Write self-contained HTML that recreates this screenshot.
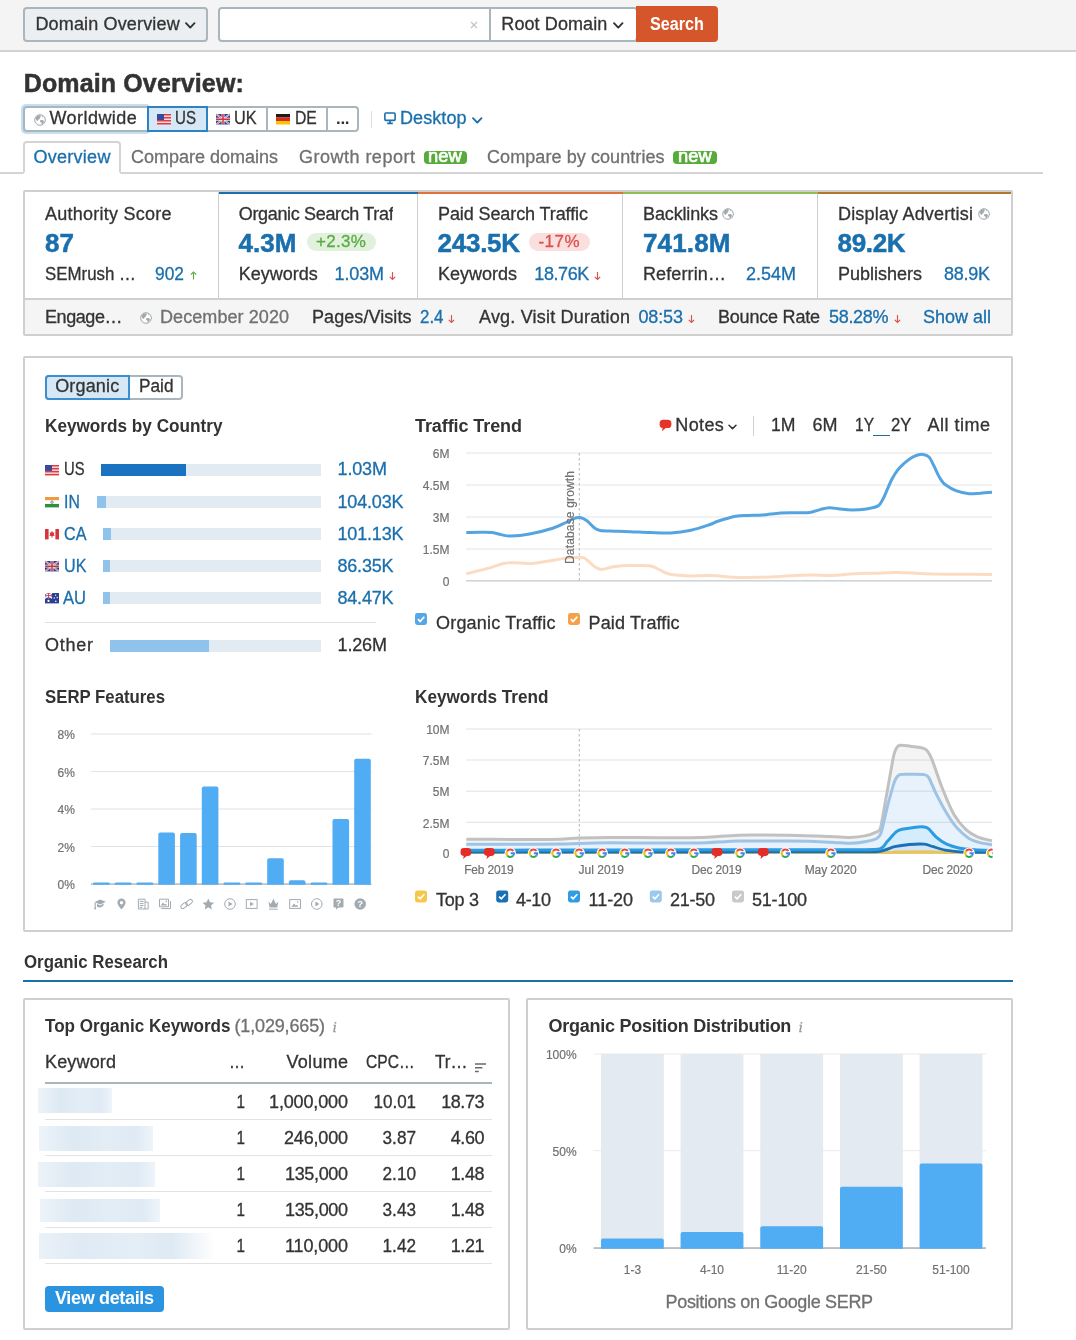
<!DOCTYPE html>
<html lang="en">
<head>
<meta charset="utf-8">
<title>Domain Overview</title>
<style>
*{box-sizing:border-box;margin:0;padding:0}
html,body{width:1076px;height:1340px;overflow:hidden;background:#fff}
body{font-family:"Liberation Sans",sans-serif;font-size:18px;color:#333;position:relative;line-height:1}
.a{position:absolute}
.t{position:absolute;white-space:nowrap;line-height:20px;height:20px;-webkit-text-stroke:.3px}
svg{position:absolute;overflow:visible}
svg text{font-family:"Liberation Sans",sans-serif;stroke:#757575;stroke-width:.2px}
</style>
</head>
<body>

<!-- top -->
<div class="a" style="left:0px;top:0px;width:1076px;height:52px;background:#f4f4f4;border-bottom:2px solid #d2d2d2"></div>
<div class="a" style="left:23px;top:6.5px;width:185px;height:35.5px;border:2px solid #a9b6bb;border-radius:4px;background:#eceff1"></div>
<div class="t" style="top:14px;left:35.40px;letter-spacing:0.161px">Domain Overview</div>
<svg style="left:185px;top:22px" width="10.5" height="7" viewBox="0 0 10.5 7"><path d="M1 1.2 L5.25 5.6 L9.5 1.2" fill="none" stroke="#333" stroke-width="1.9" stroke-linecap="round" stroke-linejoin="round"/></svg>
<div class="a" style="left:218px;top:6.5px;width:420px;height:35.5px;border:2px solid #a9b6bb;border-radius:4px;background:#fff"></div>
<div class="a" style="left:489px;top:8px;width:2px;height:33px;background:#a9b6bb"></div>
<svg style="left:469.5px;top:21px" width="8" height="8" viewBox="0 0 8 8"><path d="M1 1L7 7M7 1L1 7" stroke="#c4c4c4" stroke-width="1.3"/></svg>
<div class="t" style="top:14px;left:501.30px;letter-spacing:0.095px">Root Domain</div>
<svg style="left:613px;top:22px" width="10.5" height="7" viewBox="0 0 10.5 7"><path d="M1 1.2 L5.25 5.6 L9.5 1.2" fill="none" stroke="#333" stroke-width="1.9" stroke-linecap="round" stroke-linejoin="round"/></svg>
<div class="a" style="left:636px;top:6px;width:82px;height:36px;background:#d6562b;border-radius:0 4px 4px 0"></div>
<div class="t" style="top:14px;left:649.60px;color:#fff;font-weight:bold;-webkit-text-stroke:0;transform:scaleX(0.8993);transform-origin:0 50%">Search</div>
<div class="t" style="top:73px;left:23.80px;font-size:25px;font-weight:bold;-webkit-text-stroke:.5px;letter-spacing:0.124px">Domain Overview:</div>
<div class="a" style="left:21px;top:104px;width:130px;height:30px;border-radius:5px;background:#c4def3"></div>
<div class="a" style="left:23px;top:106px;width:336px;height:26px;border:2px solid #a9b6bb;border-radius:4px;background:#fff"></div>
<div class="a" style="left:147px;top:106px;width:61px;height:26px;border:2px solid #2b83c4;background:#d6e8f6"></div>
<div class="a" style="left:265.5px;top:108px;width:2px;height:22px;background:#a9b6bb"></div>
<div class="a" style="left:325.5px;top:108px;width:2px;height:22px;background:#a9b6bb"></div>
<svg style="left:34.2px;top:113.5px" width="12" height="12" viewBox="0 0 12 12"><circle cx="6" cy="6" r="5.3" fill="#fff" stroke="#a0a8ab" stroke-width="1"/><path d="M1.6 4 Q2.6 1.8 5 1.2 L6.6 1.6 L6.8 3 L5.6 3.8 L5.8 5 L4.4 5.4 L3.8 7 L2.4 6.2 Z M6.2 6.2 L8.4 6 L10 7 L9.4 9 L8 10.2 L7.2 8.6 L6 7.6 Z M8 1.6 L9.6 2.8 L8.6 3.4 Z" fill="#a0a8ab"/></svg>
<div class="t" style="top:108px;left:49.40px;letter-spacing:0.462px">Worldwide</div>
<svg style="left:156.8px;top:114.2px" width="14" height="10.5" viewBox="0 0 14 10.5" preserveAspectRatio="none"><rect width="14" height="10.5" fill="#f6dada"/><g fill="#dc3c46"><rect width="14" height="1.5"/><rect y="3" width="14" height="1.5"/><rect y="6" width="14" height="1.5"/><rect y="9" width="14" height="1.5"/></g><rect width="7" height="6" fill="#3a4a9a"/></svg>
<div class="t" style="top:108px;left:175.20px;transform:scaleX(0.8395);transform-origin:0 50%">US</div>
<svg style="left:215.8px;top:114.2px" width="14" height="10.5" viewBox="0 0 14 10.5" preserveAspectRatio="none"><rect width="14" height="10.5" fill="#2f3f8f"/><path d="M0 0L14 10.5M14 0L0 10.5" stroke="#e8e8f0" stroke-width="1.7"/><path d="M0 0L14 10.5M14 0L0 10.5" stroke="#c8343c" stroke-width=".6"/><path d="M7 0V10.5M0 5.25H14" stroke="#f0f0f4" stroke-width="2.8"/><path d="M7 0V10.5M0 5.25H14" stroke="#c8343c" stroke-width="1.5"/></svg>
<div class="t" style="top:108px;left:233.90px;transform:scaleX(0.9034);transform-origin:0 50%">UK</div>
<svg style="left:275.8px;top:114.2px" width="14" height="10.5" viewBox="0 0 14 10.5" preserveAspectRatio="none"><rect width="14" height="3.5" fill="#1c1c1c"/><rect y="3.5" width="14" height="3.5" fill="#dc2b1e"/><rect y="7" width="14" height="3.5" fill="#f8c600"/></svg>
<div class="t" style="top:108px;left:294.90px;transform:scaleX(0.8715);transform-origin:0 50%">DE</div>
<div class="t" style="top:109px;left:336.00px;font-size:17px;font-weight:bold;-webkit-text-stroke:0;letter-spacing:-0.336px">...</div>
<div class="a" style="left:371px;top:111px;width:1px;height:17px;background:#ddd"></div>
<svg style="left:384px;top:112px" width="12" height="13" viewBox="0 0 12 13"><rect x=".9" y="1" width="10.2" height="7.4" rx="1" fill="none" stroke="#1a6fad" stroke-width="1.6"/><path d="M6 8.6V11M3.2 11.4H8.8" stroke="#1a6fad" stroke-width="1.6" fill="none"/></svg>
<div class="t" style="top:108px;left:400.00px;color:#1a6fad;letter-spacing:0.076px">Desktop</div>
<svg style="left:472px;top:117px" width="10.5" height="7" viewBox="0 0 10.5 7"><path d="M1 1.2 L5.25 5.6 L9.5 1.2" fill="none" stroke="#1a6fad" stroke-width="1.9" stroke-linecap="round" stroke-linejoin="round"/></svg>
<div class="a" style="left:0px;top:172px;width:1043px;height:2px;background:#d4d4d4"></div>
<div class="a" style="left:23px;top:141px;width:98px;height:33px;border:2px solid #d4d4d4;border-bottom:2px solid #fff;border-radius:4px 4px 0 0;background:#fff"></div>
<div class="t" style="top:147px;left:33.40px;color:#1a6fad;letter-spacing:0.283px">Overview</div>
<div class="t" style="top:147px;left:131.00px;color:#707070">Compare domains</div>
<div class="t" style="top:147px;left:298.90px;color:#707070;letter-spacing:0.496px">Growth report</div>
<div class="a" style="left:424px;top:150.5px;width:43.3px;height:13px;background:#56ab3a;border-radius:4px"></div>
<div class="t" style="top:146px;left:428.30px;font-size:19px;color:#fff;transform:scaleX(0.9667);transform-origin:0 50%;-webkit-text-stroke:.7px">new</div>
<div class="t" style="top:147px;left:487.00px;color:#707070;letter-spacing:0.079px">Compare by countries</div>
<div class="a" style="left:673.3px;top:150.5px;width:43.8px;height:13px;background:#56ab3a;border-radius:4px"></div>
<div class="t" style="top:146px;left:677.80px;font-size:19px;color:#fff;transform:scaleX(0.9667);transform-origin:0 50%;-webkit-text-stroke:.7px">new</div>

<!-- summary -->
<div class="a" style="left:23px;top:190px;width:990px;height:146px;border:2px solid #cfcfcf;border-radius:2px;background:#fff"></div>
<div class="a" style="left:25px;top:300px;width:986px;height:34px;background:#f5f5f5"></div>
<div class="a" style="left:25px;top:298px;width:986px;height:2px;background:#cfcfcf"></div>
<div class="a" style="left:218px;top:192px;width:1px;height:106px;background:#cfcfcf"></div>
<div class="a" style="left:417px;top:192px;width:1px;height:106px;background:#cfcfcf"></div>
<div class="a" style="left:622px;top:192px;width:1px;height:106px;background:#cfcfcf"></div>
<div class="a" style="left:817px;top:192px;width:1px;height:106px;background:#cfcfcf"></div>
<div class="a" style="left:218.5px;top:192px;width:199.0px;height:2px;background:#1a6fad"></div>
<div class="a" style="left:417.5px;top:192px;width:205.0px;height:2px;background:#e0713d"></div>
<div class="a" style="left:622.5px;top:192px;width:195.0px;height:2px;background:#8dc055"></div>
<div class="a" style="left:817.5px;top:192px;width:193.5px;height:2px;background:#b4772c"></div>
<div class="t" style="top:204px;left:45.00px;letter-spacing:0.246px">Authority Score</div>
<div class="t" style="top:233px;left:45.00px;font-size:26px;color:#1a6fad;font-weight:bold;-webkit-text-stroke:.5px;letter-spacing:0.078px">87</div>
<div class="t" style="top:264px;left:45.00px;transform:scaleX(0.9378);transform-origin:0 50%">SEMrush …</div>
<div class="t" style="top:264px;left:155.40px;color:#1a6fad;transform:scaleX(0.9652);transform-origin:0 50%">902</div>
<svg style="left:189.5px;top:271.1px" width="7" height="8.4" viewBox="0 0 7 9" preserveAspectRatio="none"><path d="M3.5 9 V1.2 M0.8 3.8 L3.5 1 L6.2 3.8" fill="none" stroke="#5aab46" stroke-width="1.15"/></svg>
<div class="a" style="left:238.8px;top:203px;width:153.8px;height:24px;overflow:hidden">
<div class="t" style="top:1px;left:0.00px;letter-spacing:-0.345px">Organic Search Traffic</div>
</div>
<div class="t" style="top:233px;left:238.50px;font-size:26px;color:#1a6fad;font-weight:bold;-webkit-text-stroke:.5px;letter-spacing:0.062px">4.3M</div>
<div class="a" style="left:306.5px;top:233px;width:69.5px;height:17.5px;border-radius:9px;background:#e1f1dc"></div>
<div class="t" style="top:232px;left:316.00px;font-size:17px;color:#5aab46;letter-spacing:0.328px">+2.3%</div>
<div class="t" style="top:264px;left:238.80px">Keywords</div>
<div class="t" style="top:264px;left:334.60px;color:#1a6fad;letter-spacing:-0.133px">1.03M</div>
<svg style="left:388.5px;top:272.1px" width="7" height="8.4" viewBox="0 0 7 9" preserveAspectRatio="none"><path d="M3.5 0 V7.8 M0.8 5.2 L3.5 8 L6.2 5.2" fill="none" stroke="#d9534f" stroke-width="1.15"/></svg>
<div class="t" style="top:204px;left:438.00px;letter-spacing:-0.097px">Paid Search Traffic</div>
<div class="t" style="top:233px;left:437.60px;font-size:26px;color:#1a6fad;font-weight:bold;-webkit-text-stroke:.5px;letter-spacing:-0.269px">243.5K</div>
<div class="a" style="left:529px;top:233px;width:61px;height:17.5px;border-radius:9px;background:#fbdfdf"></div>
<div class="t" style="top:232px;left:538.50px;font-size:17px;color:#d9534f;letter-spacing:0.438px">-17%</div>
<div class="t" style="top:264px;left:438.00px">Keywords</div>
<div class="t" style="top:264px;left:534.30px;color:#1a6fad;letter-spacing:-0.412px">18.76K</div>
<svg style="left:593.5px;top:272.1px" width="7" height="8.4" viewBox="0 0 7 9" preserveAspectRatio="none"><path d="M3.5 0 V7.8 M0.8 5.2 L3.5 8 L6.2 5.2" fill="none" stroke="#d9534f" stroke-width="1.15"/></svg>
<div class="t" style="top:204px;left:643.00px;letter-spacing:-0.129px">Backlinks</div>
<svg style="left:722px;top:207.5px" width="12" height="12" viewBox="0 0 12 12"><circle cx="6" cy="6" r="5.3" fill="#fff" stroke="#a0a8ab" stroke-width="1"/><path d="M1.6 4 Q2.6 1.8 5 1.2 L6.6 1.6 L6.8 3 L5.6 3.8 L5.8 5 L4.4 5.4 L3.8 7 L2.4 6.2 Z M6.2 6.2 L8.4 6 L10 7 L9.4 9 L8 10.2 L7.2 8.6 L6 7.6 Z M8 1.6 L9.6 2.8 L8.6 3.4 Z" fill="#a0a8ab"/></svg>
<div class="t" style="top:233px;left:643.00px;font-size:26px;color:#1a6fad;font-weight:bold;-webkit-text-stroke:.5px;letter-spacing:0.153px">741.8M</div>
<div class="t" style="top:264px;left:643.00px;letter-spacing:0.121px">Referrin…</div>
<div class="t" style="top:264px;left:746.00px;color:#1a6fad">2.54M</div>
<div class="a" style="left:838px;top:203px;width:135px;height:24px;overflow:hidden">
<div class="t" style="top:1px;left:0.00px;letter-spacing:0.179px">Display Advertising</div>
</div>
<svg style="left:978.2px;top:207.5px" width="12" height="12" viewBox="0 0 12 12"><circle cx="6" cy="6" r="5.3" fill="#fff" stroke="#a0a8ab" stroke-width="1"/><path d="M1.6 4 Q2.6 1.8 5 1.2 L6.6 1.6 L6.8 3 L5.6 3.8 L5.8 5 L4.4 5.4 L3.8 7 L2.4 6.2 Z M6.2 6.2 L8.4 6 L10 7 L9.4 9 L8 10.2 L7.2 8.6 L6 7.6 Z M8 1.6 L9.6 2.8 L8.6 3.4 Z" fill="#a0a8ab"/></svg>
<div class="t" style="top:233px;left:837.60px;font-size:26px;color:#1a6fad;font-weight:bold;-webkit-text-stroke:.5px;letter-spacing:-0.348px">89.2K</div>
<div class="t" style="top:264px;left:838.00px">Publishers</div>
<div class="t" style="top:264px;left:944.00px;color:#1a6fad;letter-spacing:-0.262px">88.9K</div>
<div class="t" style="top:307px;left:45.00px;letter-spacing:-0.427px">Engage…</div>
<svg style="left:139.8px;top:311.5px" width="12" height="12" viewBox="0 0 12 12"><circle cx="6" cy="6" r="5.3" fill="#fff" stroke="#a0a8ab" stroke-width="1"/><path d="M1.6 4 Q2.6 1.8 5 1.2 L6.6 1.6 L6.8 3 L5.6 3.8 L5.8 5 L4.4 5.4 L3.8 7 L2.4 6.2 Z M6.2 6.2 L8.4 6 L10 7 L9.4 9 L8 10.2 L7.2 8.6 L6 7.6 Z M8 1.6 L9.6 2.8 L8.6 3.4 Z" fill="#a0a8ab"/></svg>
<div class="t" style="top:307px;left:160.00px;color:#707070;letter-spacing:0.077px">December 2020</div>
<div class="t" style="top:307px;left:312.00px;letter-spacing:0.071px">Pages/Visits</div>
<div class="t" style="top:307px;left:420.00px;color:#1a6fad;transform:scaleX(0.9388);transform-origin:0 50%">2.4</div>
<svg style="left:448px;top:314.6px" width="7" height="8.4" viewBox="0 0 7 9" preserveAspectRatio="none"><path d="M3.5 0 V7.8 M0.8 5.2 L3.5 8 L6.2 5.2" fill="none" stroke="#d9534f" stroke-width="1.15"/></svg>
<div class="t" style="top:307px;left:479.00px;letter-spacing:0.199px">Avg. Visit Duration</div>
<div class="t" style="top:307px;left:638.50px;color:#1a6fad;letter-spacing:-0.137px">08:53</div>
<svg style="left:687.5px;top:314.6px" width="7" height="8.4" viewBox="0 0 7 9" preserveAspectRatio="none"><path d="M3.5 0 V7.8 M0.8 5.2 L3.5 8 L6.2 5.2" fill="none" stroke="#d9534f" stroke-width="1.15"/></svg>
<div class="t" style="top:307px;left:718.00px;letter-spacing:-0.208px">Bounce Rate</div>
<div class="t" style="top:307px;left:829.00px;color:#1a6fad;letter-spacing:-0.312px">58.28%</div>
<svg style="left:893.5px;top:314.6px" width="7" height="8.4" viewBox="0 0 7 9" preserveAspectRatio="none"><path d="M3.5 0 V7.8 M0.8 5.2 L3.5 8 L6.2 5.2" fill="none" stroke="#d9534f" stroke-width="1.15"/></svg>
<div class="t" style="top:307px;left:923.00px;color:#1a6fad">Show all</div>

<!-- main -->
<div class="a" style="left:23px;top:356px;width:990px;height:576px;border:2px solid #cfcfcf;border-radius:2px;background:#fff"></div>
<div class="a" style="left:45px;top:374.5px;width:138px;height:25.5px;border:2px solid #a9b6bb;border-radius:4px;background:#fff"></div>
<div class="a" style="left:45px;top:374.5px;width:85px;height:25.5px;border:2px solid #3b8fce;border-radius:4px 0 0 4px;background:#d6e8f6"></div>
<div class="t" style="top:376px;left:55.20px;letter-spacing:0.161px">Organic</div>
<div class="t" style="top:376px;left:138.50px;transform:scaleX(0.9575);transform-origin:0 50%">Paid</div>
<div class="t" style="top:416px;left:45.00px;font-weight:bold;-webkit-text-stroke:0;transform:scaleX(0.9541);transform-origin:0 50%">Keywords by Country</div>
<svg style="left:45.2px;top:465.2px" width="14" height="10.4" viewBox="0 0 14 10.5" preserveAspectRatio="none"><rect width="14" height="10.5" fill="#f6dada"/><g fill="#dc3c46"><rect width="14" height="1.5"/><rect y="3" width="14" height="1.5"/><rect y="6" width="14" height="1.5"/><rect y="9" width="14" height="1.5"/></g><rect width="7" height="6" fill="#3a4a9a"/></svg>
<div class="t" style="top:459px;left:63.60px;transform:scaleX(0.8235);transform-origin:0 50%">US</div>
<div class="a" style="left:101px;top:464.2px;width:220px;height:11.5px;background:#e3ebf2"></div>
<div class="a" style="left:101px;top:464.2px;width:85px;height:11.5px;background:#1a73c0"></div>
<div class="t" style="top:459px;left:337.50px;color:#1a6fad;letter-spacing:-0.133px">1.03M</div>
<svg style="left:45.2px;top:497.2px" width="14" height="10.4" viewBox="0 0 14 10.5" preserveAspectRatio="none"><rect width="14" height="3.5" fill="#f39a3c"/><rect y="3.5" width="14" height="3.5" fill="#fff"/><rect y="7" width="14" height="3.5" fill="#2f8f3a"/><circle cx="7" cy="5.25" r="1.2" fill="none" stroke="#2b3a8f" stroke-width=".6"/></svg>
<div class="t" style="top:492px;left:63.60px;color:#1a6fad;transform:scaleX(0.8778);transform-origin:0 50%">IN</div>
<div class="a" style="left:97px;top:496.23px;width:224px;height:11.5px;background:#e3ebf2"></div>
<div class="a" style="left:97px;top:496.23px;width:9px;height:11.5px;background:#8fc3ec"></div>
<div class="t" style="top:492px;left:337.50px;color:#1a6fad;letter-spacing:-0.177px">104.03K</div>
<svg style="left:45.2px;top:529.2px" width="14" height="10.4" viewBox="0 0 14 10.5" preserveAspectRatio="none"><rect width="14" height="10.5" fill="#fff"/><rect width="3.6" height="10.5" fill="#d8343c"/><rect x="10.4" width="3.6" height="10.5" fill="#d8343c"/><path d="M7 1.8 L8 3.8 L9.4 3.4 L8.8 5.6 L10 6.4 L7.4 7.2 L7.4 8.8 H6.6 L6.6 7.2 L4 6.4 L5.2 5.6 L4.6 3.4 L6 3.8 Z" fill="#d8343c"/></svg>
<div class="t" style="top:524px;left:63.60px;color:#1a6fad;transform:scaleX(0.8954);transform-origin:0 50%">CA</div>
<div class="a" style="left:103px;top:528.26px;width:218px;height:11.5px;background:#e3ebf2"></div>
<div class="a" style="left:103px;top:528.26px;width:8px;height:11.5px;background:#8fc3ec"></div>
<div class="t" style="top:524px;left:337.50px;color:#1a6fad;letter-spacing:-0.177px">101.13K</div>
<svg style="left:45.2px;top:561.2px" width="14" height="10.4" viewBox="0 0 14 10.5" preserveAspectRatio="none"><rect width="14" height="10.5" fill="#2f3f8f"/><path d="M0 0L14 10.5M14 0L0 10.5" stroke="#e8e8f0" stroke-width="1.7"/><path d="M0 0L14 10.5M14 0L0 10.5" stroke="#c8343c" stroke-width=".6"/><path d="M7 0V10.5M0 5.25H14" stroke="#f0f0f4" stroke-width="2.8"/><path d="M7 0V10.5M0 5.25H14" stroke="#c8343c" stroke-width="1.5"/></svg>
<div class="t" style="top:556px;left:63.60px;color:#1a6fad;transform:scaleX(0.8954);transform-origin:0 50%">UK</div>
<div class="a" style="left:103px;top:560.29px;width:218px;height:11.5px;background:#e3ebf2"></div>
<div class="a" style="left:103px;top:560.29px;width:7px;height:11.5px;background:#8fc3ec"></div>
<div class="t" style="top:556px;left:337.50px;color:#1a6fad;letter-spacing:-0.212px">86.35K</div>
<svg style="left:45.2px;top:593.2px" width="14" height="10.4" viewBox="0 0 14 10.5" preserveAspectRatio="none"><rect width="14" height="10.5" fill="#2d3f94"/><path d="M0 0L7 5.25M7 0L0 5.25" stroke="#fff" stroke-width="1.4"/><path d="M3.5 0V5.25M0 2.6H7" stroke="#fff" stroke-width="1.8"/><path d="M3.5 0V5.25M0 2.6H7" stroke="#d8343c" stroke-width=".9"/><g fill="#fff"><circle cx="3.5" cy="8" r="1.1"/><circle cx="10.6" cy="2.2" r=".7"/><circle cx="12.2" cy="4.6" r=".7"/><circle cx="9.2" cy="5" r=".7"/><circle cx="10.8" cy="8.4" r=".8"/></g></svg>
<div class="t" style="top:588px;left:63.10px;color:#1a6fad;transform:scaleX(0.9194);transform-origin:0 50%">AU</div>
<div class="a" style="left:103px;top:592.3199999999999px;width:218px;height:11.5px;background:#e3ebf2"></div>
<div class="a" style="left:103px;top:592.3199999999999px;width:7px;height:11.5px;background:#8fc3ec"></div>
<div class="t" style="top:588px;left:337.50px;color:#1a6fad;letter-spacing:-0.212px">84.47K</div>
<div class="a" style="left:45px;top:622px;width:331px;height:1px;background:#e0e0e0"></div>
<div class="t" style="top:635px;left:45.00px;letter-spacing:0.742px">Other</div>
<div class="a" style="left:110px;top:640px;width:211px;height:11.5px;background:#e3ebf2"></div>
<div class="a" style="left:110px;top:640px;width:99px;height:11.5px;background:#8fc3ec"></div>
<div class="t" style="top:635px;left:337.50px;letter-spacing:-0.133px">1.26M</div>
<div class="t" style="top:416px;left:415.00px;font-weight:bold;-webkit-text-stroke:0;letter-spacing:-0.086px">Traffic Trend</div>
<svg style="left:659px;top:419px" width="13" height="13" viewBox="0 0 13 13"><path d="M4.2 0.8 H8.8 Q12.4 0.8 12.4 4.4 V5.4 Q12.4 9 8.8 9 H6.8 L3 12.2 L3.6 9 Q0.6 8.6 0.6 5.4 V4.4 Q0.6 0.8 4.2 0.8Z" fill="#e8332b"/></svg>
<div class="t" style="top:415px;left:675.30px;letter-spacing:0.367px">Notes</div>
<svg style="left:727.5px;top:423.5px" width="9" height="6" viewBox="0 0 9 6"><path d="M1 1.2 L4.5 4.6 L8 1.2" fill="none" stroke="#333" stroke-width="1.5" stroke-linecap="round" stroke-linejoin="round"/></svg>
<div class="a" style="left:752.5px;top:416px;width:1px;height:20px;background:#d0d0d0"></div>
<div class="t" style="top:415px;left:771.20px;transform:scaleX(0.9794);transform-origin:0 50%">1M</div>
<div class="t" style="top:415px;left:812.40px;letter-spacing:-0.016px">6M</div>
<div class="t" style="top:415px;left:854.60px;transform:scaleX(0.8624);transform-origin:0 50%">1Y</div>
<div class="a" style="left:872.5px;top:434.5px;width:17.5px;height:1.5px;background:#1a6fad"></div>
<div class="t" style="top:415px;left:890.50px;transform:scaleX(0.9305);transform-origin:0 50%">2Y</div>
<div class="t" style="top:415px;left:927.50px;letter-spacing:0.498px">All time</div>
<svg style="left:0;top:0" width="1076" height="1340" viewBox="0 0 1076 1340"><rect x="466" y="452.25" width="526" height="1.5" fill="#eeeeee"/><rect x="466" y="484.25" width="526" height="1.5" fill="#eeeeee"/><rect x="466" y="516.25" width="526" height="1.5" fill="#eeeeee"/><rect x="466" y="548.25" width="526" height="1.5" fill="#eeeeee"/><rect x="466" y="580" width="526" height="1.6" fill="#cfd4d8"/><path d="M579.3 453V581" stroke="#b5b5b5" stroke-width="1" stroke-dasharray="2.5 2.5" fill="none"/><text x="449.5" y="458.2" text-anchor="end" font-size="12" fill="#707070">6M</text><text x="449.5" y="490.2" text-anchor="end" font-size="12" fill="#707070">4.5M</text><text x="449.5" y="522.2" text-anchor="end" font-size="12" fill="#707070">3M</text><text x="449.5" y="554.2" text-anchor="end" font-size="12" fill="#707070">1.5M</text><text x="449.5" y="586.2" text-anchor="end" font-size="12" fill="#707070">0</text><path d="M466.3 573.7C468.4 573.2 474.7 571.7 479.0 570.6C483.3 569.5 488.7 568.1 492.2 567.1C495.7 566.1 497.4 565.2 500.0 564.5C502.6 563.8 504.7 563.0 508.0 562.8C511.3 562.5 515.9 562.9 520.0 563.0C524.1 563.1 528.5 563.6 532.5 563.4C536.5 563.2 540.1 562.4 544.0 561.8C547.9 561.2 552.3 560.5 555.6 559.9C558.9 559.3 561.1 558.8 564.0 558.4C566.9 558.0 569.7 557.7 572.9 557.6C576.1 557.5 580.6 557.1 583.0 557.6C585.4 558.1 586.1 559.4 587.5 560.5C588.9 561.6 590.2 563.0 591.6 564.2C593.0 565.4 594.3 566.6 596.0 567.5C597.7 568.4 599.2 569.4 601.7 569.4C604.2 569.4 607.6 567.8 611.0 567.2C614.4 566.6 617.6 566.0 621.8 565.7C626.0 565.4 631.2 565.6 636.0 565.6C640.8 565.6 646.9 565.4 650.7 566.0C654.5 566.6 656.1 568.2 659.0 569.5C661.9 570.8 664.7 572.7 668.0 573.7C671.3 574.7 675.2 574.9 679.0 575.3C682.8 575.7 685.8 576.0 691.0 576.0C696.2 576.0 702.0 575.2 710.0 575.5C718.0 575.8 730.4 577.2 738.7 577.5C747.0 577.8 753.1 577.4 760.0 577.2C766.9 577.0 771.7 576.8 780.0 576.4C788.3 576.0 801.5 575.0 810.0 574.9C818.5 574.8 823.5 575.7 830.9 575.5C838.3 575.3 847.2 574.1 854.6 573.7C862.0 573.3 868.0 573.4 875.0 573.2C882.0 573.0 887.8 572.4 896.3 572.5C904.8 572.6 915.4 573.4 926.0 573.7C936.6 574.0 949.0 574.1 960.0 574.2C971.0 574.4 986.7 574.5 992.0 574.6" fill="none" stroke="#fbdcc3" stroke-width="3"/><path d="M466.3 532.5C468.4 532.5 474.7 532.3 479.0 532.3C483.3 532.3 488.5 532.1 492.2 532.5C495.9 532.9 497.9 534.0 501.0 534.6C504.1 535.2 506.1 536.1 510.9 536.0C515.7 535.9 522.6 535.3 529.6 534.0C536.6 532.7 546.6 530.1 552.7 528.2C558.8 526.3 562.6 524.0 566.0 522.5C569.4 521.0 570.6 519.7 572.9 518.9C575.2 518.1 577.6 517.1 580.0 517.5C582.4 517.9 585.0 519.3 587.3 521.0C589.6 522.7 591.9 525.9 594.0 527.5C596.1 529.1 596.7 529.9 600.2 530.5C603.7 531.1 610.0 531.0 615.0 531.2C620.0 531.4 624.7 531.5 630.5 531.7C636.3 531.9 643.3 532.4 650.0 532.6C656.7 532.8 664.0 533.4 670.8 533.0C677.6 532.6 684.5 531.6 691.0 530.2C697.5 528.8 705.5 526.0 710.0 524.5C714.5 523.0 713.5 522.7 717.8 521.3C722.1 519.9 730.7 517.3 735.7 516.3C740.7 515.3 743.5 515.6 748.0 515.4C752.5 515.2 757.1 515.4 762.5 515.0C767.9 514.6 774.9 513.4 780.3 513.0C785.7 512.6 790.0 512.8 795.0 512.7C800.0 512.6 805.8 512.9 810.0 512.4C814.2 511.9 816.8 510.4 820.0 509.6C823.2 508.8 826.1 507.8 829.4 507.7C832.7 507.6 836.3 508.6 840.0 509.0C843.7 509.4 847.3 510.0 851.7 510.0C856.1 510.0 862.0 509.7 866.5 509.0C871.0 508.3 875.6 507.3 878.4 505.6C881.1 503.9 881.5 501.7 883.0 499.0C884.5 496.3 885.9 492.5 887.4 489.2C888.9 485.9 890.3 482.2 892.0 479.0C893.7 475.8 895.8 472.5 897.8 469.9C899.8 467.3 901.8 465.5 904.0 463.5C906.2 461.5 909.0 459.4 911.2 458.0C913.4 456.6 915.0 455.9 917.0 455.3C919.0 454.7 921.0 454.1 923.0 454.4C925.0 454.7 927.2 455.2 929.0 457.0C930.8 458.8 932.0 462.1 933.5 465.0C935.0 467.9 936.6 471.7 937.9 474.3C939.2 476.9 940.2 478.8 941.5 480.5C942.8 482.2 943.0 483.1 945.4 484.8C947.8 486.5 951.8 489.2 955.8 490.7C959.8 492.2 965.1 493.3 969.1 493.7C973.1 494.1 976.2 493.4 980.0 493.2C983.8 492.9 990.0 492.4 992.0 492.2" fill="none" stroke="#55a4e2" stroke-width="3"/><text transform="translate(574.3,564) rotate(-90)" font-size="12" fill="#707070" textLength="93" lengthAdjust="spacing">Database growth</text><g transform="translate(415,613)"><rect width="12" height="12" rx="2.4" fill="#55a7e6"/><path d="M2.9 6.2 L5.1 8.4 L9.3 3.8" fill="none" stroke="#fff" stroke-width="1.7"/></g><g transform="translate(568,613)"><rect width="12" height="12" rx="2.4" fill="#f4a24a"/><path d="M2.9 6.2 L5.1 8.4 L9.3 3.8" fill="none" stroke="#fff" stroke-width="1.7"/></g></svg>
<div class="t" style="top:613px;left:436.00px;letter-spacing:0.199px">Organic Traffic</div>
<div class="t" style="top:613px;left:588.60px;letter-spacing:0.116px">Paid Traffic</div>
<div class="t" style="top:687px;left:45.00px;font-weight:bold;-webkit-text-stroke:0;transform:scaleX(0.9322);transform-origin:0 50%">SERP Features</div>
<svg style="left:0;top:0" width="1076" height="1340" viewBox="0 0 1076 1340"><rect x="91" y="733.5" width="280.5" height="1" fill="#e2e2e2"/><rect x="91" y="771.0" width="280.5" height="1" fill="#e2e2e2"/><rect x="91" y="808.5" width="280.5" height="1" fill="#e2e2e2"/><rect x="91" y="846.0" width="280.5" height="1" fill="#e2e2e2"/><rect x="91" y="883.3" width="280.5" height="1.5" fill="#b5b9bc"/><text x="74.8" y="739.2" text-anchor="end" font-size="12" fill="#707070">8%</text><text x="74.8" y="776.7" text-anchor="end" font-size="12" fill="#707070">6%</text><text x="74.8" y="814.2" text-anchor="end" font-size="12" fill="#707070">4%</text><text x="74.8" y="851.7" text-anchor="end" font-size="12" fill="#707070">2%</text><text x="74.8" y="889.2" text-anchor="end" font-size="12" fill="#707070">0%</text><path d="M93.0 884.7 V883.5 Q93.0 882.5 94.0 882.5 H108.6 Q109.6 882.5 109.6 883.5 V884.7Z" fill="#50acf3"/><path d="M114.8 884.7 V883.5 Q114.8 882.5 115.8 882.5 H130.4 Q131.4 882.5 131.4 883.5 V884.7Z" fill="#50acf3"/><path d="M136.5 884.7 V883.5 Q136.5 882.5 137.5 882.5 H152.1 Q153.1 882.5 153.1 883.5 V884.7Z" fill="#50acf3"/><path d="M158.3 884.7 V834.6 Q158.3 832.6 160.3 832.6 H172.9 Q174.9 832.6 174.9 834.6 V884.7Z" fill="#50acf3"/><path d="M180.1 884.7 V835.0 Q180.1 833.0 182.1 833.0 H194.7 Q196.7 833.0 196.7 835.0 V884.7Z" fill="#50acf3"/><path d="M201.8 884.7 V788.6 Q201.8 786.6 203.8 786.6 H216.4 Q218.4 786.6 218.4 788.6 V884.7Z" fill="#50acf3"/><path d="M223.6 884.7 V883.5 Q223.6 882.5 224.6 882.5 H239.2 Q240.2 882.5 240.2 883.5 V884.7Z" fill="#50acf3"/><path d="M245.4 884.7 V883.5 Q245.4 882.5 246.4 882.5 H261.0 Q262.0 882.5 262.0 883.5 V884.7Z" fill="#50acf3"/><path d="M267.2 884.7 V860.3 Q267.2 858.3 269.2 858.3 H281.8 Q283.8 858.3 283.8 860.3 V884.7Z" fill="#50acf3"/><path d="M288.9 884.7 V882.2 Q288.9 880.2 290.9 880.2 H303.5 Q305.5 880.2 305.5 882.2 V884.7Z" fill="#50acf3"/><path d="M310.7 884.7 V883.5 Q310.7 882.5 311.7 882.5 H326.3 Q327.3 882.5 327.3 883.5 V884.7Z" fill="#50acf3"/><path d="M332.5 884.7 V821.0 Q332.5 819.0 334.5 819.0 H347.1 Q349.1 819.0 349.1 821.0 V884.7Z" fill="#50acf3"/><path d="M354.2 884.7 V760.7 Q354.2 758.7 356.2 758.7 H368.8 Q370.8 758.7 370.8 760.7 V884.7Z" fill="#50acf3"/><g transform="translate(93.8,898)"><path d="M0.6 4.2 L6.4 1.6 L12 3.8 L6.6 6.4 Z" fill="#a3abb0"/><path d="M3.2 6 V8.8 Q6.4 10.6 9.8 7.6 V5.6 L6.6 7.4 Z" fill="#a3abb0"/><path d="M1.4 4.8 V10" stroke="#a3abb0" stroke-width="1.1"/><circle cx="1.4" cy="10.4" r="1" fill="#a3abb0"/></g><g transform="translate(115.5,898)"><path d="M6 0.6 C3.6 0.6 1.9 2.3 1.9 4.6 C1.9 7.4 6 11.6 6 11.6 C6 11.6 10.1 7.4 10.1 4.6 C10.1 2.3 8.4 0.6 6 0.6Z M6 3 A1.7 1.7 0 1 1 6 6.4 A1.7 1.7 0 1 1 6 3Z" fill="#a3abb0" fill-rule="evenodd"/></g><g transform="translate(137.2,898)"><path d="M1.2 1.2 H7.8 V11 H1.2Z M7.8 4.2 H11 V11 H7.8" fill="none" stroke="#a3abb0" stroke-width="1"/><path d="M2.6 3.4H6.4M2.6 5.6H6.4M2.6 7.6H6.4M2.6 9.4H5" stroke="#a3abb0" stroke-width="1"/></g><g transform="translate(158.9,898)"><path d="M0.6 1.2 H9.6 V8.8 H0.6Z" fill="none" stroke="#a3abb0" stroke-width="1"/><path d="M2.4 10.6 H11.6 V3" fill="none" stroke="#a3abb0" stroke-width="1"/><path d="M1.8 7.6 L4.2 4.6 L5.8 6.6 L6.8 5.8 L8.4 7.6Z" fill="#a3abb0"/><circle cx="7.4" cy="3.4" r=".8" fill="#a3abb0"/></g><g transform="translate(180.6,898)"><g fill="none" stroke="#a3abb0" stroke-width="1"><rect x="-0.2" y="5.6" width="7.4" height="4" rx="2" transform="rotate(-38 3.5 7.6)"/><rect x="4.8" y="2.4" width="7.4" height="4" rx="2" transform="rotate(-38 8.5 4.4)"/></g></g><g transform="translate(202.3,898)"><path d="M6 0.6 L7.7 4.3 L11.8 4.7 L8.7 7.4 L9.6 11.4 L6 9.3 L2.4 11.4 L3.3 7.4 L0.2 4.7 L4.3 4.3 Z" fill="#a3abb0"/></g><g transform="translate(224.0,898)"><circle cx="6" cy="6" r="5.3" fill="none" stroke="#a3abb0" stroke-width="1"/><path d="M4.6 3.6 L8.6 6 L4.6 8.4Z" fill="#a3abb0"/></g><g transform="translate(245.7,898)"><rect x="0.6" y="1.6" width="10.8" height="8.8" fill="none" stroke="#a3abb0" stroke-width="1"/><path d="M4.4 3.8 L8.2 6 L4.4 8.2Z" fill="#a3abb0"/></g><g transform="translate(267.4,898)"><path d="M1 3.4 L3.4 6 L6 0.8 L8.6 6 L11 3.4 L9.8 9.4 H2.2Z" fill="#a3abb0"/><path d="M1.6 11.2 H10.4" stroke="#a3abb0" stroke-width="1"/></g><g transform="translate(289.1,898)"><rect x="0.6" y="1.6" width="10.8" height="8.8" fill="none" stroke="#a3abb0" stroke-width="1"/><path d="M2.4 8.8 L5 5.4 L6.6 7.6 L7.6 6.8 L9.4 8.8Z" fill="#a3abb0"/><circle cx="8.6" cy="4" r=".8" fill="#a3abb0"/></g><g transform="translate(310.8,898)"><circle cx="6" cy="6" r="5.3" fill="none" stroke="#a3abb0" stroke-width="1"/><path d="M4.6 3.6 L8.6 6 L4.6 8.4Z" fill="#a3abb0"/></g><g transform="translate(332.5,898)"><path d="M2 0.6 H10 Q11 0.6 11 1.6 V8.6 Q11 9.6 10 9.6 H5.8 L3.6 11.8 V9.6 H2 Q1 9.6 1 8.6 V1.6 Q1 0.6 2 0.6Z" fill="#a3abb0"/><text x="6" y="8.4" text-anchor="middle" font-size="9" font-weight="bold" fill="#fff" style="stroke:none">?</text></g><g transform="translate(354.2,898)"><circle cx="6" cy="6" r="5.8" fill="#a3abb0"/><text x="6" y="9.3" text-anchor="middle" font-size="9.5" font-weight="bold" fill="#fff" style="stroke:none">?</text></g></svg>
<div class="t" style="top:687px;left:415.00px;font-weight:bold;-webkit-text-stroke:0;transform:scaleX(0.9533);transform-origin:0 50%">Keywords Trend</div>
<svg style="left:0;top:0" width="1076" height="1340" viewBox="0 0 1076 1340"><rect x="466" y="728.5" width="526" height="1" fill="#e2e2e2"/><rect x="466" y="759.5" width="526" height="1" fill="#e2e2e2"/><rect x="466" y="790.7" width="526" height="1" fill="#e2e2e2"/><rect x="466" y="821.8" width="526" height="1" fill="#e2e2e2"/><path d="M579.3 729V853" stroke="#b5b5b5" stroke-width="1" stroke-dasharray="2.5 2.5" fill="none"/><text x="449.5" y="734.2" text-anchor="end" font-size="12" fill="#707070">10M</text><text x="449.5" y="765.2" text-anchor="end" font-size="12" fill="#707070">7.5M</text><text x="449.5" y="796.4000000000001" text-anchor="end" font-size="12" fill="#707070">5M</text><text x="449.5" y="827.5" text-anchor="end" font-size="12" fill="#707070">2.5M</text><text x="449.5" y="858.2" text-anchor="end" font-size="12" fill="#707070">0</text><text x="464.2" y="874.3" font-size="12" fill="#707070" textLength="49.4" lengthAdjust="spacing">Feb 2019</text><text x="578.6" y="874.3" font-size="12" fill="#707070" textLength="45.4" lengthAdjust="spacing">Jul 2019</text><text x="691.6" y="874.3" font-size="12" fill="#707070" textLength="50" lengthAdjust="spacing">Dec 2019</text><text x="804.7" y="874.3" font-size="12" fill="#707070" textLength="52" lengthAdjust="spacing">May 2020</text><text x="922.4" y="874.3" font-size="12" fill="#707070" textLength="50.3" lengthAdjust="spacing">Dec 2020</text><path d="M466.3 839.3C472.6 839.3 509.1 839.4 520.0 839.4C530.9 839.4 553.2 839.4 560.0 839.2C566.8 839.0 572.8 838.2 578.6 838.0C584.4 837.8 600.5 837.4 610.0 837.4C619.5 837.4 649.5 837.8 660.0 837.8C670.5 837.8 690.8 837.9 700.0 837.6C709.2 837.3 728.3 835.5 738.7 835.2C749.1 834.9 778.3 835.2 789.0 835.3C799.7 835.4 822.9 836.2 830.0 836.4C837.1 836.6 845.9 837.5 850.0 837.4C854.1 837.3 861.8 836.5 864.9 835.9C868.0 835.3 875.0 832.8 876.8 831.9C878.6 831.0 879.5 831.7 880.5 828.0C881.5 824.3 884.2 808.0 885.7 799.9C887.2 791.8 891.9 764.3 893.1 758.3C894.3 752.3 895.3 750.1 896.1 748.6C896.9 747.1 897.9 745.6 899.8 745.3C901.7 745.0 909.8 746.1 912.5 746.4C915.2 746.7 921.2 747.6 922.9 748.1C924.6 748.6 926.3 749.5 927.3 750.8C928.3 752.1 930.1 754.7 931.8 759.0C933.5 763.3 939.6 781.5 942.2 788.0C944.8 794.5 951.3 809.9 954.1 814.8C956.9 819.7 963.2 827.0 966.0 829.6C968.8 832.2 974.9 835.8 977.9 837.1C980.9 838.4 990.4 840.4 992.0 840.8L992.0 844.8C990.6 844.5 982.7 843.3 980.0 842.6C977.3 841.9 971.7 840.2 969.0 838.5C966.3 836.8 959.7 831.0 957.1 828.1C954.5 825.2 949.1 817.3 946.7 813.3C944.3 809.3 938.3 798.1 936.2 793.9C934.1 789.7 930.2 779.9 928.8 777.6C927.4 775.3 926.3 775.0 924.3 774.6C922.3 774.2 914.9 774.3 912.0 774.3C909.1 774.3 901.8 773.8 899.8 774.6C897.8 775.4 896.1 777.5 894.6 781.3C893.1 785.1 888.8 801.3 887.2 807.3C885.6 813.3 882.4 829.0 881.2 832.6C880.0 836.2 878.7 837.4 876.8 838.5C874.9 839.6 868.0 841.2 864.9 841.8C861.8 842.4 854.1 843.3 850.0 843.3C845.9 843.3 837.1 842.5 830.0 842.2C822.9 841.9 799.7 841.2 789.0 841.1C778.3 841.0 749.1 840.8 738.7 841.0C728.3 841.2 709.2 842.8 700.0 843.0C690.8 843.2 670.5 843.1 660.0 843.1C649.5 843.1 619.5 842.8 610.0 842.8C600.5 842.8 584.4 843.2 578.6 843.4C572.8 843.6 566.8 844.0 560.0 844.1C553.2 844.2 530.9 844.2 520.0 844.2C509.1 844.2 472.6 844.2 466.3 844.2Z" fill="rgba(190,190,190,.17)"/><path d="M466.3 844.2C472.6 844.2 509.1 844.2 520.0 844.2C530.9 844.2 553.2 844.2 560.0 844.1C566.8 844.0 572.8 843.6 578.6 843.4C584.4 843.2 600.5 842.8 610.0 842.8C619.5 842.8 649.5 843.1 660.0 843.1C670.5 843.1 690.8 843.2 700.0 843.0C709.2 842.8 728.3 841.2 738.7 841.0C749.1 840.8 778.3 841.0 789.0 841.1C799.7 841.2 822.9 841.9 830.0 842.2C837.1 842.5 845.9 843.3 850.0 843.3C854.1 843.3 861.8 842.4 864.9 841.8C868.0 841.2 874.9 839.6 876.8 838.5C878.7 837.4 880.0 836.2 881.2 832.6C882.4 829.0 885.6 813.3 887.2 807.3C888.8 801.3 893.1 785.1 894.6 781.3C896.1 777.5 897.8 775.4 899.8 774.6C901.8 773.8 909.1 774.3 912.0 774.3C914.9 774.3 922.3 774.2 924.3 774.6C926.3 775.0 927.4 775.3 928.8 777.6C930.2 779.9 934.1 789.7 936.2 793.9C938.3 798.1 944.3 809.3 946.7 813.3C949.1 817.3 954.5 825.2 957.1 828.1C959.7 831.0 966.3 836.8 969.0 838.5C971.7 840.2 977.3 841.9 980.0 842.6C982.7 843.3 990.6 844.5 992.0 844.8L992.0 850.7C990.0 850.6 978.7 850.1 975.0 849.8C971.3 849.5 963.3 848.9 960.0 848.2C956.7 847.5 949.5 845.5 946.7 844.2C943.9 842.9 938.3 838.9 936.2 837.1C934.1 835.3 930.2 830.1 928.8 828.9C927.4 827.7 926.0 827.2 924.3 827.0C922.6 826.8 916.5 827.1 913.9 827.4C911.3 827.7 904.1 828.8 902.0 829.3C899.9 829.8 897.8 830.5 896.1 831.9C894.4 833.3 889.1 839.5 887.2 841.5C885.3 843.5 884.0 848.0 879.7 849.0C875.4 850.0 871.0 849.6 850.0 849.7C829.0 849.8 729.2 849.8 700.0 849.8C670.8 849.8 627.3 850.0 600.0 850.0C572.7 850.0 481.9 850.2 466.3 850.2Z" fill="rgba(120,180,235,.17)"/><path d="M466.3 850.2C481.9 850.2 572.7 850.0 600.0 850.0C627.3 850.0 670.8 849.8 700.0 849.8C729.2 849.8 829.0 849.8 850.0 849.7C871.0 849.6 875.4 850.0 879.7 849.0C884.0 848.0 885.3 843.5 887.2 841.5C889.1 839.5 894.4 833.3 896.1 831.9C897.8 830.5 899.9 829.8 902.0 829.3C904.1 828.8 911.3 827.7 913.9 827.4C916.5 827.1 922.6 826.8 924.3 827.0C926.0 827.2 927.4 827.7 928.8 828.9C930.2 830.1 934.1 835.3 936.2 837.1C938.3 838.9 943.9 842.9 946.7 844.2C949.5 845.5 956.7 847.5 960.0 848.2C963.3 848.9 971.3 849.5 975.0 849.8C978.7 850.1 990.0 850.6 992.0 850.7L992.0 852.4C988.6 852.4 968.5 852.5 963.0 852.2C957.5 851.9 948.7 850.7 945.2 850.1C941.7 849.5 935.7 847.4 933.3 846.7C930.9 846.0 927.1 844.5 924.3 844.2C921.5 843.9 913.0 844.2 909.5 844.5C906.0 844.8 898.1 845.9 894.6 846.7C891.1 847.5 884.9 850.7 879.7 851.3C874.5 851.9 882.6 851.7 850.0 851.8C817.4 851.9 644.8 852.1 600.0 852.1C555.2 852.1 481.9 852.2 466.3 852.2Z" fill="rgba(90,185,245,.26)"/><path d="M466.3 852.2C481.9 852.2 555.2 852.1 600.0 852.1C644.8 852.1 817.4 851.9 850.0 851.8C882.6 851.7 874.5 851.9 879.7 851.3C884.9 850.7 891.1 847.5 894.6 846.7C898.1 845.9 906.0 844.8 909.5 844.5C913.0 844.2 921.5 843.9 924.3 844.2C927.1 844.5 930.9 846.0 933.3 846.7C935.7 847.4 941.7 849.5 945.2 850.1C948.7 850.7 957.5 851.9 963.0 852.2C968.5 852.5 988.6 852.4 992.0 852.4L992.0 852.4C987.6 852.4 961.9 852.5 954.0 852.4C946.1 852.3 931.2 851.7 924.3 851.6C917.4 851.5 899.8 851.8 894.6 851.9C889.4 852.0 929.7 852.3 879.7 852.3C829.7 852.3 514.5 852.3 466.3 852.3Z" fill="rgba(120,175,225,.32)"/><path d="M466.3 852.3C514.5 852.3 829.7 852.3 879.7 852.3C929.7 852.3 889.4 852.0 894.6 851.9C899.8 851.8 917.4 851.5 924.3 851.6C931.2 851.7 946.1 852.3 954.0 852.4C961.9 852.5 987.6 852.4 992.0 852.4L992.0 854.0C930.7 854.0 527.6 854.0 466.3 854.0Z" fill="#e9cb6d"/><path d="M466.3 839.3C472.6 839.3 509.1 839.4 520.0 839.4C530.9 839.4 553.2 839.4 560.0 839.2C566.8 839.0 572.8 838.2 578.6 838.0C584.4 837.8 600.5 837.4 610.0 837.4C619.5 837.4 649.5 837.8 660.0 837.8C670.5 837.8 690.8 837.9 700.0 837.6C709.2 837.3 728.3 835.5 738.7 835.2C749.1 834.9 778.3 835.2 789.0 835.3C799.7 835.4 822.9 836.2 830.0 836.4C837.1 836.6 845.9 837.5 850.0 837.4C854.1 837.3 861.8 836.5 864.9 835.9C868.0 835.3 875.0 832.8 876.8 831.9C878.6 831.0 879.5 831.7 880.5 828.0C881.5 824.3 884.2 808.0 885.7 799.9C887.2 791.8 891.9 764.3 893.1 758.3C894.3 752.3 895.3 750.1 896.1 748.6C896.9 747.1 897.9 745.6 899.8 745.3C901.7 745.0 909.8 746.1 912.5 746.4C915.2 746.7 921.2 747.6 922.9 748.1C924.6 748.6 926.3 749.5 927.3 750.8C928.3 752.1 930.1 754.7 931.8 759.0C933.5 763.3 939.6 781.5 942.2 788.0C944.8 794.5 951.3 809.9 954.1 814.8C956.9 819.7 963.2 827.0 966.0 829.6C968.8 832.2 974.9 835.8 977.9 837.1C980.9 838.4 990.4 840.4 992.0 840.8" fill="none" stroke="#c1c1c1" stroke-width="3" stroke-linejoin="round"/><path d="M466.3 844.2C472.6 844.2 509.1 844.2 520.0 844.2C530.9 844.2 553.2 844.2 560.0 844.1C566.8 844.0 572.8 843.6 578.6 843.4C584.4 843.2 600.5 842.8 610.0 842.8C619.5 842.8 649.5 843.1 660.0 843.1C670.5 843.1 690.8 843.2 700.0 843.0C709.2 842.8 728.3 841.2 738.7 841.0C749.1 840.8 778.3 841.0 789.0 841.1C799.7 841.2 822.9 841.9 830.0 842.2C837.1 842.5 845.9 843.3 850.0 843.3C854.1 843.3 861.8 842.4 864.9 841.8C868.0 841.2 874.9 839.6 876.8 838.5C878.7 837.4 880.0 836.2 881.2 832.6C882.4 829.0 885.6 813.3 887.2 807.3C888.8 801.3 893.1 785.1 894.6 781.3C896.1 777.5 897.8 775.4 899.8 774.6C901.8 773.8 909.1 774.3 912.0 774.3C914.9 774.3 922.3 774.2 924.3 774.6C926.3 775.0 927.4 775.3 928.8 777.6C930.2 779.9 934.1 789.7 936.2 793.9C938.3 798.1 944.3 809.3 946.7 813.3C949.1 817.3 954.5 825.2 957.1 828.1C959.7 831.0 966.3 836.8 969.0 838.5C971.7 840.2 977.3 841.9 980.0 842.6C982.7 843.3 990.6 844.5 992.0 844.8" fill="none" stroke="#9dc4e6" stroke-width="3" stroke-linejoin="round"/><path d="M466.3 852.3C514.5 852.3 829.7 852.3 879.7 852.3C929.7 852.3 889.4 852.0 894.6 851.9C899.8 851.8 917.4 851.5 924.3 851.6C931.2 851.7 946.1 852.3 954.0 852.4C961.9 852.5 987.6 852.4 992.0 852.4" fill="none" stroke="#e6c560" stroke-width="2.6" stroke-linejoin="round"/><path d="M466.3 852.2C481.9 852.2 555.2 852.1 600.0 852.1C644.8 852.1 817.4 851.9 850.0 851.8C882.6 851.7 874.5 851.9 879.7 851.3C884.9 850.7 891.1 847.5 894.6 846.7C898.1 845.9 906.0 844.8 909.5 844.5C913.0 844.2 921.5 843.9 924.3 844.2C927.1 844.5 930.9 846.0 933.3 846.7C935.7 847.4 941.7 849.5 945.2 850.1C948.7 850.7 957.5 851.9 963.0 852.2C968.5 852.5 988.6 852.4 992.0 852.4" fill="none" stroke="#1b70b6" stroke-width="2.8" stroke-linejoin="round"/><path d="M466.3 850.2C481.9 850.2 572.7 850.0 600.0 850.0C627.3 850.0 670.8 849.8 700.0 849.8C729.2 849.8 829.0 849.8 850.0 849.7C871.0 849.6 875.4 850.0 879.7 849.0C884.0 848.0 885.3 843.5 887.2 841.5C889.1 839.5 894.4 833.3 896.1 831.9C897.8 830.5 899.9 829.8 902.0 829.3C904.1 828.8 911.3 827.7 913.9 827.4C916.5 827.1 922.6 826.8 924.3 827.0C926.0 827.2 927.4 827.7 928.8 828.9C930.2 830.1 934.1 835.3 936.2 837.1C938.3 838.9 943.9 842.9 946.7 844.2C949.5 845.5 956.7 847.5 960.0 848.2C963.3 848.9 971.3 849.5 975.0 849.8C978.7 850.1 990.0 850.6 992.0 850.7" fill="none" stroke="#2b9be2" stroke-width="3" stroke-linejoin="round"/><g transform="translate(460.5,848.0)"><path d="M3.4 0 H7.4 Q10.8 0 10.8 3.4 V4.6 Q10.8 8 7.4 8 H6.2 L2.6 11 L3.2 8 Q0 7.8 0 4.6 V3.4 Q0 0 3.4 0Z" fill="#e52d27"/></g><g transform="translate(483.9,848.0)"><path d="M3.4 0 H7.4 Q10.8 0 10.8 3.4 V4.6 Q10.8 8 7.4 8 H6.2 L2.6 11 L3.2 8 Q0 7.8 0 4.6 V3.4 Q0 0 3.4 0Z" fill="#e52d27"/></g><g transform="translate(711.6,848.0)"><path d="M3.4 0 H7.4 Q10.8 0 10.8 3.4 V4.6 Q10.8 8 7.4 8 H6.2 L2.6 11 L3.2 8 Q0 7.8 0 4.6 V3.4 Q0 0 3.4 0Z" fill="#e52d27"/></g><g transform="translate(757.9,848.0)"><path d="M3.4 0 H7.4 Q10.8 0 10.8 3.4 V4.6 Q10.8 8 7.4 8 H6.2 L2.6 11 L3.2 8 Q0 7.8 0 4.6 V3.4 Q0 0 3.4 0Z" fill="#e52d27"/></g><g transform="translate(510.3,853.3)"><circle r="5.7" fill="#fff"/><g fill="none" stroke-width="2"><path d="M3.03 -2.29 A3.7 3.7 0 0 0 -3.03 -2.15" stroke="#ea4335"/><path d="M-3.03 -2.15 A3.7 3.7 0 0 0 -3.03 2.15" stroke="#fbbc05"/><path d="M-3.03 2.15 A3.7 3.7 0 0 0 2.89 2.37" stroke="#34a853"/><path d="M2.89 2.37 A3.7 3.7 0 0 0 3.70 0 H0.4" stroke="#4285f4"/></g></g><g transform="translate(533.5,853.3)"><circle r="5.7" fill="#fff"/><g fill="none" stroke-width="2"><path d="M3.03 -2.29 A3.7 3.7 0 0 0 -3.03 -2.15" stroke="#ea4335"/><path d="M-3.03 -2.15 A3.7 3.7 0 0 0 -3.03 2.15" stroke="#fbbc05"/><path d="M-3.03 2.15 A3.7 3.7 0 0 0 2.89 2.37" stroke="#34a853"/><path d="M2.89 2.37 A3.7 3.7 0 0 0 3.70 0 H0.4" stroke="#4285f4"/></g></g><g transform="translate(556.1,853.3)"><circle r="5.7" fill="#fff"/><g fill="none" stroke-width="2"><path d="M3.03 -2.29 A3.7 3.7 0 0 0 -3.03 -2.15" stroke="#ea4335"/><path d="M-3.03 -2.15 A3.7 3.7 0 0 0 -3.03 2.15" stroke="#fbbc05"/><path d="M-3.03 2.15 A3.7 3.7 0 0 0 2.89 2.37" stroke="#34a853"/><path d="M2.89 2.37 A3.7 3.7 0 0 0 3.70 0 H0.4" stroke="#4285f4"/></g></g><g transform="translate(579.2,853.3)"><circle r="5.7" fill="#fff"/><g fill="none" stroke-width="2"><path d="M3.03 -2.29 A3.7 3.7 0 0 0 -3.03 -2.15" stroke="#ea4335"/><path d="M-3.03 -2.15 A3.7 3.7 0 0 0 -3.03 2.15" stroke="#fbbc05"/><path d="M-3.03 2.15 A3.7 3.7 0 0 0 2.89 2.37" stroke="#34a853"/><path d="M2.89 2.37 A3.7 3.7 0 0 0 3.70 0 H0.4" stroke="#4285f4"/></g></g><g transform="translate(602.2,853.3)"><circle r="5.7" fill="#fff"/><g fill="none" stroke-width="2"><path d="M3.03 -2.29 A3.7 3.7 0 0 0 -3.03 -2.15" stroke="#ea4335"/><path d="M-3.03 -2.15 A3.7 3.7 0 0 0 -3.03 2.15" stroke="#fbbc05"/><path d="M-3.03 2.15 A3.7 3.7 0 0 0 2.89 2.37" stroke="#34a853"/><path d="M2.89 2.37 A3.7 3.7 0 0 0 3.70 0 H0.4" stroke="#4285f4"/></g></g><g transform="translate(624.8,853.3)"><circle r="5.7" fill="#fff"/><g fill="none" stroke-width="2"><path d="M3.03 -2.29 A3.7 3.7 0 0 0 -3.03 -2.15" stroke="#ea4335"/><path d="M-3.03 -2.15 A3.7 3.7 0 0 0 -3.03 2.15" stroke="#fbbc05"/><path d="M-3.03 2.15 A3.7 3.7 0 0 0 2.89 2.37" stroke="#34a853"/><path d="M2.89 2.37 A3.7 3.7 0 0 0 3.70 0 H0.4" stroke="#4285f4"/></g></g><g transform="translate(648.0,853.3)"><circle r="5.7" fill="#fff"/><g fill="none" stroke-width="2"><path d="M3.03 -2.29 A3.7 3.7 0 0 0 -3.03 -2.15" stroke="#ea4335"/><path d="M-3.03 -2.15 A3.7 3.7 0 0 0 -3.03 2.15" stroke="#fbbc05"/><path d="M-3.03 2.15 A3.7 3.7 0 0 0 2.89 2.37" stroke="#34a853"/><path d="M2.89 2.37 A3.7 3.7 0 0 0 3.70 0 H0.4" stroke="#4285f4"/></g></g><g transform="translate(670.8,853.3)"><circle r="5.7" fill="#fff"/><g fill="none" stroke-width="2"><path d="M3.03 -2.29 A3.7 3.7 0 0 0 -3.03 -2.15" stroke="#ea4335"/><path d="M-3.03 -2.15 A3.7 3.7 0 0 0 -3.03 2.15" stroke="#fbbc05"/><path d="M-3.03 2.15 A3.7 3.7 0 0 0 2.89 2.37" stroke="#34a853"/><path d="M2.89 2.37 A3.7 3.7 0 0 0 3.70 0 H0.4" stroke="#4285f4"/></g></g><g transform="translate(693.9,853.3)"><circle r="5.7" fill="#fff"/><g fill="none" stroke-width="2"><path d="M3.03 -2.29 A3.7 3.7 0 0 0 -3.03 -2.15" stroke="#ea4335"/><path d="M-3.03 -2.15 A3.7 3.7 0 0 0 -3.03 2.15" stroke="#fbbc05"/><path d="M-3.03 2.15 A3.7 3.7 0 0 0 2.89 2.37" stroke="#34a853"/><path d="M2.89 2.37 A3.7 3.7 0 0 0 3.70 0 H0.4" stroke="#4285f4"/></g></g><g transform="translate(740.1,853.3)"><circle r="5.7" fill="#fff"/><g fill="none" stroke-width="2"><path d="M3.03 -2.29 A3.7 3.7 0 0 0 -3.03 -2.15" stroke="#ea4335"/><path d="M-3.03 -2.15 A3.7 3.7 0 0 0 -3.03 2.15" stroke="#fbbc05"/><path d="M-3.03 2.15 A3.7 3.7 0 0 0 2.89 2.37" stroke="#34a853"/><path d="M2.89 2.37 A3.7 3.7 0 0 0 3.70 0 H0.4" stroke="#4285f4"/></g></g><g transform="translate(785.4,853.3)"><circle r="5.7" fill="#fff"/><g fill="none" stroke-width="2"><path d="M3.03 -2.29 A3.7 3.7 0 0 0 -3.03 -2.15" stroke="#ea4335"/><path d="M-3.03 -2.15 A3.7 3.7 0 0 0 -3.03 2.15" stroke="#fbbc05"/><path d="M-3.03 2.15 A3.7 3.7 0 0 0 2.89 2.37" stroke="#34a853"/><path d="M2.89 2.37 A3.7 3.7 0 0 0 3.70 0 H0.4" stroke="#4285f4"/></g></g><g transform="translate(830.9,853.3)"><circle r="5.7" fill="#fff"/><g fill="none" stroke-width="2"><path d="M3.03 -2.29 A3.7 3.7 0 0 0 -3.03 -2.15" stroke="#ea4335"/><path d="M-3.03 -2.15 A3.7 3.7 0 0 0 -3.03 2.15" stroke="#fbbc05"/><path d="M-3.03 2.15 A3.7 3.7 0 0 0 2.89 2.37" stroke="#34a853"/><path d="M2.89 2.37 A3.7 3.7 0 0 0 3.70 0 H0.4" stroke="#4285f4"/></g></g><g transform="translate(969.1,853.3)"><circle r="5.7" fill="#fff"/><g fill="none" stroke-width="2"><path d="M3.03 -2.29 A3.7 3.7 0 0 0 -3.03 -2.15" stroke="#ea4335"/><path d="M-3.03 -2.15 A3.7 3.7 0 0 0 -3.03 2.15" stroke="#fbbc05"/><path d="M-3.03 2.15 A3.7 3.7 0 0 0 2.89 2.37" stroke="#34a853"/><path d="M2.89 2.37 A3.7 3.7 0 0 0 3.70 0 H0.4" stroke="#4285f4"/></g></g><g clip-path="url(#kc)"><g transform="translate(991.6,853.3)"><circle r="5.7" fill="#fff"/><g fill="none" stroke-width="2"><path d="M3.03 -2.29 A3.7 3.7 0 0 0 -3.03 -2.15" stroke="#ea4335"/><path d="M-3.03 -2.15 A3.7 3.7 0 0 0 -3.03 2.15" stroke="#fbbc05"/><path d="M-3.03 2.15 A3.7 3.7 0 0 0 2.89 2.37" stroke="#34a853"/><path d="M2.89 2.37 A3.7 3.7 0 0 0 3.70 0 H0.4" stroke="#4285f4"/></g></g></g><defs><clipPath id="kc"><rect x="980" y="840" width="12.6" height="30"/></clipPath></defs><g transform="translate(415,890.4)"><rect width="12" height="12" rx="2.4" fill="#f5c84c"/><path d="M2.9 6.2 L5.1 8.4 L9.3 3.8" fill="none" stroke="#fff" stroke-width="1.7"/></g><g transform="translate(496.2,890.4)"><rect width="12" height="12" rx="2.4" fill="#1b6fb3"/><path d="M2.9 6.2 L5.1 8.4 L9.3 3.8" fill="none" stroke="#fff" stroke-width="1.7"/></g><g transform="translate(568,890.4)"><rect width="12" height="12" rx="2.4" fill="#2f9de3"/><path d="M2.9 6.2 L5.1 8.4 L9.3 3.8" fill="none" stroke="#fff" stroke-width="1.7"/></g><g transform="translate(649.8,890.4)"><rect width="12" height="12" rx="2.4" fill="#9cc8ec"/><path d="M2.9 6.2 L5.1 8.4 L9.3 3.8" fill="none" stroke="#fff" stroke-width="1.7"/></g><g transform="translate(732,890.4)"><rect width="12" height="12" rx="2.4" fill="#c9c9c9"/><path d="M2.9 6.2 L5.1 8.4 L9.3 3.8" fill="none" stroke="#fff" stroke-width="1.7"/></g></svg>
<div class="t" style="top:890px;left:436.00px;letter-spacing:-0.262px">Top 3</div>
<div class="t" style="top:890px;left:516.00px;letter-spacing:-0.344px">4-10</div>
<div class="t" style="top:890px;left:588.60px;letter-spacing:-0.051px">11-20</div>
<div class="t" style="top:890px;left:670.00px;letter-spacing:-0.262px">21-50</div>
<div class="t" style="top:890px;left:752.00px;letter-spacing:-0.212px">51-100</div>

<!-- research -->
<div class="t" style="top:952px;left:24.00px;font-weight:bold;-webkit-text-stroke:0;transform:scaleX(0.9346);transform-origin:0 50%">Organic Research</div>
<div class="a" style="left:23px;top:980px;width:990px;height:2px;background:#1a6fad"></div>
<div class="a" style="left:23px;top:998px;width:487px;height:332px;border:2px solid #cfcfcf;border-radius:2px;background:#fff"></div>
<div class="a" style="left:526px;top:998px;width:487px;height:332px;border:2px solid #cfcfcf;border-radius:2px;background:#fff"></div>
<div class="t" style="top:1016px;left:45.00px;font-weight:bold;-webkit-text-stroke:0;transform:scaleX(0.9479);transform-origin:0 50%">Top Organic Keywords</div>
<div class="t" style="top:1016px;left:234.50px;color:#707070;letter-spacing:-0.158px">(1,029,665)</div>
<div class="t" style="left:332.5px;top:1016.5px;font-family:'Liberation Serif',serif;font-style:italic;font-size:15px;color:#999">i</div>
<div class="t" style="top:1052px;left:45.00px;letter-spacing:0.161px">Keyword</div>
<div class="t" style="top:1052px;left:228.50px;transform:scaleX(0.8889);transform-origin:0 50%">…</div>
<div class="t" style="top:1052px;right:728.00px;letter-spacing:0.291px;margin-right:-0.291px">Volume</div>
<div class="t" style="top:1052px;left:366.00px;transform:scaleX(0.8658);transform-origin:0 50%">CPC…</div>
<div class="t" style="top:1052px;left:435.00px;transform:scaleX(0.9467);transform-origin:0 50%">Tr…</div>
<svg style="left:474.5px;top:1062.5px" width="11" height="10" viewBox="0 0 11 10"><path d="M0 1H11M0 4.8H7.4M0 8.6H3.8" stroke="#6a6a6a" stroke-width="1.5"/></svg>
<div class="a" style="left:45px;top:1081.8px;width:447px;height:2px;background:#a9b6bb"></div>
<div class="a" style="left:37.5px;top:1088px;width:74.5px;height:25px;background:linear-gradient(90deg,#edf3f9 0%,#dde9f3 30%,#e3edf6 60%,#dfeaf4 85%,#eef4fa 100%)"></div>
<div class="t" style="top:1092px;right:831.00px;transform:scaleX(0.8487);transform-origin:100% 50%">1</div>
<div class="t" style="top:1092px;right:728.00px;letter-spacing:-0.135px;margin-right:0.135px">1,000,000</div>
<div class="t" style="top:1092px;right:660.40px;transform:scaleX(0.9435);transform-origin:100% 50%">10.01</div>
<div class="t" style="top:1092px;right:591.40px;letter-spacing:-0.387px;margin-right:0.387px">18.73</div>
<div class="a" style="left:45px;top:1119px;width:447px;height:1px;background:#e2e2e2"></div>
<div class="a" style="left:39px;top:1125.5px;width:114px;height:25px;background:linear-gradient(90deg,#edf3f9 0%,#dde9f3 30%,#e3edf6 60%,#dfeaf4 85%,#eef4fa 100%)"></div>
<div class="t" style="top:1128px;right:831.00px;transform:scaleX(0.8487);transform-origin:100% 50%">1</div>
<div class="t" style="top:1128px;right:728.00px;letter-spacing:-0.180px;margin-right:0.180px">246,000</div>
<div class="t" style="top:1128px;right:660.40px;transform:scaleX(0.9559);transform-origin:100% 50%">3.87</div>
<div class="t" style="top:1128px;right:591.40px;letter-spacing:-0.349px;margin-right:0.349px">4.60</div>
<div class="a" style="left:45px;top:1155px;width:447px;height:1px;background:#e2e2e2"></div>
<div class="a" style="left:37.5px;top:1162px;width:117.5px;height:25px;background:linear-gradient(90deg,#edf3f9 0%,#dde9f3 30%,#e3edf6 60%,#dfeaf4 85%,#eef4fa 100%)"></div>
<div class="t" style="top:1164px;right:831.00px;transform:scaleX(0.8487);transform-origin:100% 50%">1</div>
<div class="t" style="top:1164px;right:728.00px;letter-spacing:-0.346px;margin-right:0.346px">135,000</div>
<div class="t" style="top:1164px;right:660.40px;transform:scaleX(0.9559);transform-origin:100% 50%">2.10</div>
<div class="t" style="top:1164px;right:591.40px;letter-spacing:-0.349px;margin-right:0.349px">1.48</div>
<div class="a" style="left:45px;top:1191px;width:447px;height:1px;background:#e2e2e2"></div>
<div class="a" style="left:40px;top:1199px;width:120px;height:23px;background:linear-gradient(90deg,#edf3f9 0%,#dde9f3 30%,#e3edf6 60%,#dfeaf4 85%,#eef4fa 100%)"></div>
<div class="t" style="top:1200px;right:831.00px;transform:scaleX(0.8487);transform-origin:100% 50%">1</div>
<div class="t" style="top:1200px;right:728.00px;letter-spacing:-0.346px;margin-right:0.346px">135,000</div>
<div class="t" style="top:1200px;right:660.40px;transform:scaleX(0.9559);transform-origin:100% 50%">3.43</div>
<div class="t" style="top:1200px;right:591.40px;letter-spacing:-0.349px;margin-right:0.349px">1.48</div>
<div class="a" style="left:45px;top:1227px;width:447px;height:1px;background:#e2e2e2"></div>
<div class="a" style="left:39px;top:1233px;width:176px;height:26px;background:linear-gradient(90deg,#eaf1f8 0%,#dfeaf4 25%,#e4eef7 55%,#dde9f3 75%,rgba(230,239,247,0) 100%)"></div>
<div class="t" style="top:1236px;right:831.00px;transform:scaleX(0.8487);transform-origin:100% 50%">1</div>
<div class="t" style="top:1236px;right:728.00px;letter-spacing:-0.122px;margin-right:0.122px">110,000</div>
<div class="t" style="top:1236px;right:660.40px;transform:scaleX(0.9559);transform-origin:100% 50%">1.42</div>
<div class="t" style="top:1236px;right:591.40px;letter-spacing:-0.349px;margin-right:0.349px">1.21</div>
<div class="a" style="left:45px;top:1263px;width:447px;height:1px;background:#e2e2e2"></div>
<div class="a" style="left:45px;top:1286px;width:119px;height:26px;background:#2b94e1;border-radius:4px"></div>
<div class="t" style="top:1288px;left:55.00px;color:#fff;font-weight:bold;-webkit-text-stroke:0;letter-spacing:-0.338px">View details</div>
<div class="t" style="top:1016px;left:548.40px;font-weight:bold;-webkit-text-stroke:0;letter-spacing:-0.251px">Organic Position Distribution</div>
<div class="t" style="left:798.5px;top:1016.5px;font-family:'Liberation Serif',serif;font-style:italic;font-size:15px;color:#999">i</div>
<svg style="left:0;top:0" width="1076" height="1340" viewBox="0 0 1076 1340"><rect x="593.5" y="1053.4" width="392.5" height="1.2" fill="#ededed"/><rect x="593.5" y="1150" width="392.5" height="1.2" fill="#ededed"/><rect x="593.5" y="1247.3" width="392.5" height="1.5" fill="#a9adb0"/><rect x="601.0" y="1054" width="62.8" height="194" fill="#e3eaf1"/><path d="M601.0 1248.8 V1240.4 Q601.0 1238.4 603.0 1238.4 H661.8 Q663.8 1238.4 663.8 1240.4 V1248.8Z" fill="#50acf3"/><text x="632.4" y="1274" text-anchor="middle" font-size="12" fill="#707070">1-3</text><rect x="680.6" y="1054" width="62.8" height="194" fill="#e3eaf1"/><path d="M680.6 1248.8 V1234.0 Q680.6 1232.0 682.6 1232.0 H741.4 Q743.4 1232.0 743.4 1234.0 V1248.8Z" fill="#50acf3"/><text x="712.0" y="1274" text-anchor="middle" font-size="12" fill="#707070">4-10</text><rect x="760.3" y="1054" width="62.8" height="194" fill="#e3eaf1"/><path d="M760.3 1248.8 V1228.2 Q760.3 1226.2 762.3 1226.2 H821.1 Q823.1 1226.2 823.1 1228.2 V1248.8Z" fill="#50acf3"/><text x="791.7" y="1274" text-anchor="middle" font-size="12" fill="#707070">11-20</text><rect x="840.0" y="1054" width="62.8" height="194" fill="#e3eaf1"/><path d="M840.0 1248.8 V1188.8 Q840.0 1186.8 842.0 1186.8 H900.8 Q902.8 1186.8 902.8 1188.8 V1248.8Z" fill="#50acf3"/><text x="871.4" y="1274" text-anchor="middle" font-size="12" fill="#707070">21-50</text><rect x="919.6" y="1054" width="62.8" height="194" fill="#e3eaf1"/><path d="M919.6 1248.8 V1165.5 Q919.6 1163.5 921.6 1163.5 H980.4 Q982.4 1163.5 982.4 1165.5 V1248.8Z" fill="#50acf3"/><text x="951.0" y="1274" text-anchor="middle" font-size="12" fill="#707070">51-100</text><text x="576.6" y="1059.4" text-anchor="end" font-size="12" fill="#707070">100%</text><text x="576.6" y="1156.0" text-anchor="end" font-size="12" fill="#707070">50%</text><text x="576.6" y="1253.4" text-anchor="end" font-size="12" fill="#707070">0%</text></svg>
<div class="t" style="top:1292px;left:665.60px;color:#707070;letter-spacing:-0.332px">Positions on Google SERP</div>
</body>
</html>
